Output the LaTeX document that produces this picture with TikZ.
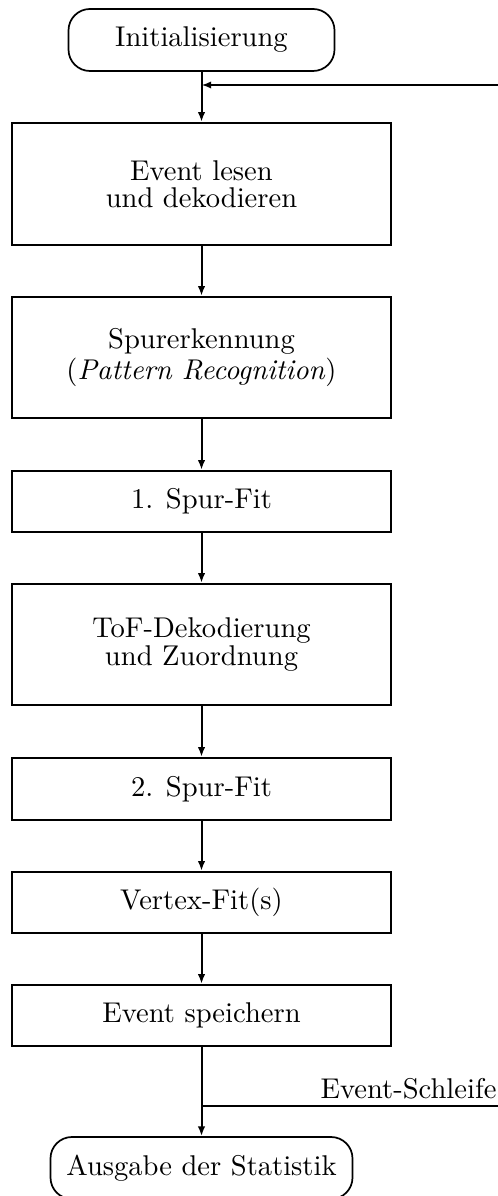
\documentclass[tikz,border=0pt]{standalone}
\usetikzlibrary{arrows.meta}
\begin{document}
\begin{tikzpicture}[x=0.35pt,y=-0.35pt,
  txt/.style={font=\fontsize{10pt}{9.5pt}\selectfont},
  box/.style={txt,draw,line width=0.8pt,minimum width=379*0.35pt,align=center,inner sep=0pt},
  term/.style={txt,draw,line width=0.6pt,rounded corners=7.5pt,minimum height=62*0.35pt,inner sep=0pt},
  arr/.style={line width=0.7pt,-{Latex[length=3.4pt,width=2.6pt]}},
  ln/.style={line width=0.7pt}]
\useasboundingbox (0,0) rectangle (498,1196);
\node[term,minimum width=266*0.35pt] (init) at (201.5,40) {Initialisierung};
\node[box,minimum height=122*0.35pt] (b1) at (201.5,184) {Event lesen\\und dekodieren};
\node[box,minimum height=121*0.35pt] (b2) at (201.5,357.5) {Spurerkennung\\(\textit{Pattern Recognition})};
\node[box,minimum height=61*0.35pt] (b3) at (201.5,501.5) {1. Spur-Fit};
\node[box,minimum height=121*0.35pt] (b4) at (201.5,644.5) {ToF-Dekodierung\\und Zuordnung};
\node[box,minimum height=62*0.35pt] (b5) at (201.5,789) {2. Spur-Fit};
\node[box,minimum height=61*0.35pt] (b6) at (201.5,902.5) {Vertex-Fit(s)};
\node[box,minimum height=61*0.35pt] (b7) at (201.5,1015.5) {Event speichern};
\node[term,minimum width=302*0.35pt] (fin) at (201.5,1168) {Ausgabe der Statistik};
\coordinate (rtop) at (498,85);
\coordinate (rbot) at (498,1106);
\draw[arr] (init) -- (b1);
\draw[arr] (rtop) -- (init.south |- rtop);
\draw[arr] (b1) -- (b2);
\draw[arr] (b2) -- (b3);
\draw[arr] (b3) -- (b4);
\draw[arr] (b4) -- (b5);
\draw[arr] (b5) -- (b6);
\draw[arr] (b6) -- (b7);
\draw[arr] (b7) -- (fin);
\draw[ln] (rbot) -- (b7.south |- rbot);
\node[txt,anchor=base east,inner sep=0pt] (lbl) at (497,1098) {Event-Schleife};
\end{tikzpicture}
\end{document}
